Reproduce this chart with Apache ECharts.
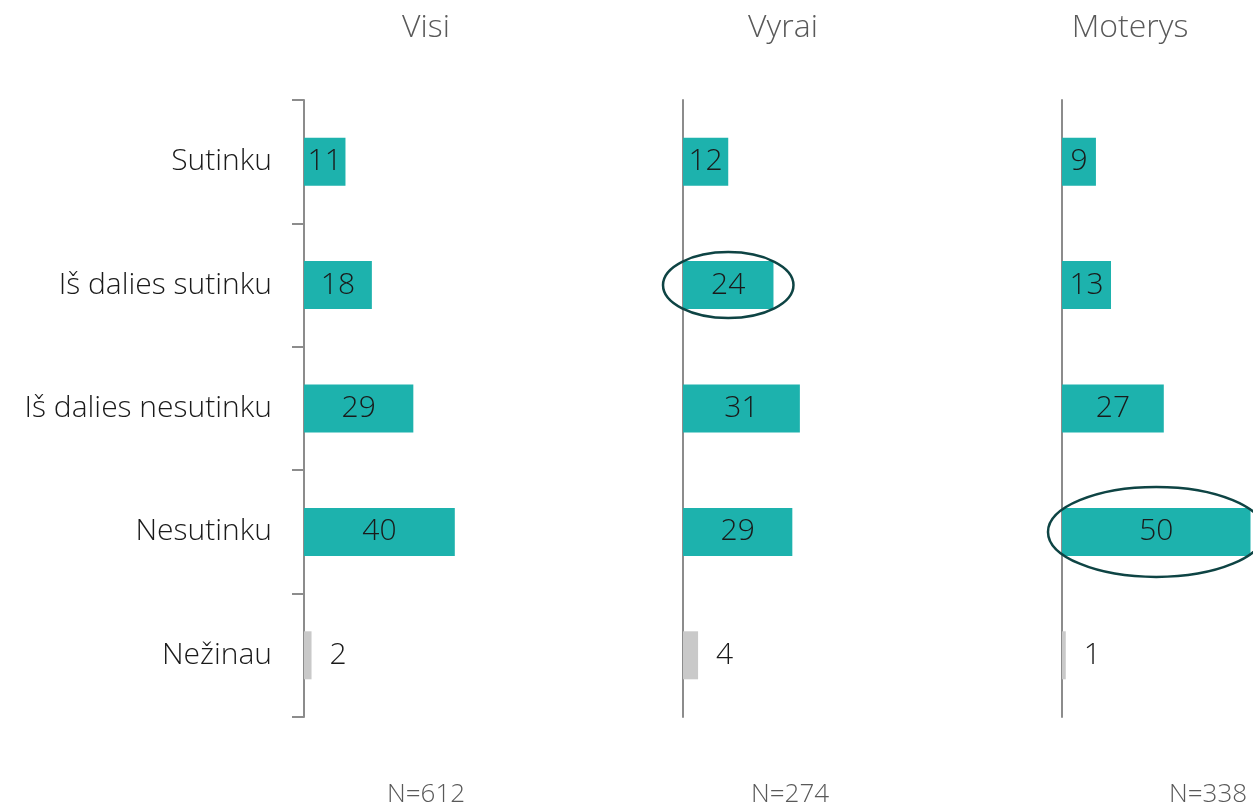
<!DOCTYPE html>
<html>
<head>
<meta charset="utf-8">
<script src="https://cdn.jsdelivr.net/npm/echarts@6/dist/echarts.min.js"></script>
<style>
html,body{margin:0;padding:0;background:#fff}
#chart{width:1253px;height:808px}
</style>
</head>
<body>
<div id="chart"></div>
<script>
// data
var categories = ['Sutinku', 'Iš dalies sutinku', 'Iš dalies nesutinku', 'Nesutinku', 'Nežinau'];
var groups = ['Visi', 'Vyrai', 'Moterys'];
var sampleSizes = ['N=612', 'N=274', 'N=338'];
var visi = [11, 18, 29, 40, 2];
var vyrai = [12, 24, 31, 29, 4];
var moterys = [9, 13, 27, 50, 1];
// circled bars: [panel, category index]
var highlights = [[1, 1], [2, 3]];

var values = [visi, vyrai, moterys];
var FONT = '"Open Sans", "Noto Sans", sans-serif';
var gridLeft = [304, 683, 1062];
var titleX = [426, 783, 1130];
var nX = [426, 790, 1208];

var grids = [], xAxes = [], yAxes = [], series = [];
for (var g = 0; g < 3; g++) {
    grids.push({left: gridLeft[g], top: 100, width: 377, height: 617, outerBoundsMode: 'none', containLabel: false});
    xAxes.push({gridIndex: g, type: 'value', min: 0, max: 100, show: false});
    yAxes.push({
        gridIndex: g,
        type: 'category',
        inverse: true,
        data: categories,
        axisLine: {show: true, lineStyle: {color: '#8c8c8c', width: 2}},
        axisTick: {show: g === 0, length: 12, lineStyle: {color: '#8c8c8c', width: 2}},
        axisLabel: {show: g === 0, margin: 32, fontSize: 30, color: '#1a1a1a', fontFamily: FONT, fontWeight: 300},
        splitLine: {show: false}
    });
    var items = values[g].map(function (v, i) {
        var last = i === categories.length - 1;
        return {
            value: v,
            itemStyle: {color: last ? '#c9c9c9' : '#1db2ad'},
            label: last ? {position: 'right', distance: 18} : {position: 'inside'}
        };
    });
    series.push({
        type: 'bar',
        xAxisIndex: g,
        yAxisIndex: g,
        barWidth: 48,
        data: items,
        label: {show: true, fontSize: 30, color: '#1a1a1a', fontFamily: FONT, fontWeight: 300},
        silent: true
    });
}

var texts = [];
for (var t = 0; t < 3; t++) {
    texts.push({type: 'text', x: titleX[t], y: 28, style: {text: groups[t], fill: '#595959', font: '300 32px ' + FONT, textAlign: 'center', textVerticalAlign: 'middle'}});
    texts.push({type: 'text', x: nX[t], y: 795, style: {text: sampleSizes[t], fill: '#595959', font: '300 26px ' + FONT, textAlign: 'center', textVerticalAlign: 'middle'}});
}

var myChart = echarts.init(document.getElementById('chart'));
myChart.setOption({
    animation: false,
    grid: grids,
    xAxis: xAxes,
    yAxis: yAxes,
    series: series,
    graphic: texts
});

// ellipses around highlighted bars, placed via the axes
var ringSize = [[20, 33], [14, 45]];
var rings = highlights.map(function (h, k) {
    var v = values[h[0]][h[1]];
    var c = myChart.convertToPixel({gridIndex: h[0]}, [v / 2, h[1]]);
    var end = myChart.convertToPixel({gridIndex: h[0]}, [v, h[1]]);
    return {
        type: 'ellipse',
        shape: {cx: c[0], cy: c[1], rx: end[0] - c[0] + ringSize[k][0], ry: ringSize[k][1]},
        style: {fill: 'none', stroke: '#0e4444', lineWidth: 2.5},
        z: 100
    };
});
myChart.setOption({graphic: texts.concat(rings)});
</script>
</body>
</html>
